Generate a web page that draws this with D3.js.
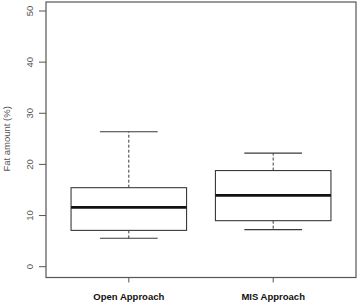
<!DOCTYPE html>
<html>
<head>
<meta charset="utf-8">
<script src="https://cdn.jsdelivr.net/npm/d3@7"></script>
<style>
  body { margin: 0; background: #fff; }
  svg { display: block; }
</style>
</head>
<body>
<svg width="358" height="306"></svg>
<script>
// box summaries
const groups = ['Open Approach', 'MIS Approach'];
const lowerWhisker = [5.55, 7.25];
const q1 = [7.1, 9.0];
const median = [11.6, 13.95];
const q3 = [15.45, 18.8];
const upperWhisker = [26.4, 22.2];
const yTicks = [0, 10, 20, 30, 40, 50];

const svg = d3.select('svg');
const frame = { l: 46, r: 356, t: 2, b: 277.5 };
const x = d3.scaleLinear().domain([0.4265, 2.5735]).range([frame.l, frame.r]);
const y = d3.scaleLinear().domain([0, 50]).range([266.7, 11]);
const ink = '#3a3a3a';
const boxW = 0.8, capW = 0.4;

svg.append('rect')
  .attr('x', frame.l).attr('y', frame.t)
  .attr('width', frame.r - frame.l).attr('height', frame.b - frame.t)
  .attr('fill', 'none').attr('stroke', '#555').attr('stroke-width', 1.2);

// y axis ticks + rotated labels
const yg = svg.append('g');
yg.selectAll('line').data(yTicks).enter().append('line')
  .attr('x1', frame.l - 7).attr('x2', frame.l)
  .attr('y1', d => y(d)).attr('y2', d => y(d))
  .attr('stroke', '#555');
yg.selectAll('text').data(yTicks).enter().append('text')
  .attr('transform', d => `translate(33,${y(d)}) rotate(-90)`)
  .attr('text-anchor', 'middle')
  .attr('font-family', 'Liberation Sans, Arial, sans-serif')
  .attr('font-size', 9.5).attr('fill', '#555')
  .text(d => d);

svg.append('text')
  .attr('transform', `translate(10,${(y(0) + y(50)) / 2}) rotate(-90)`)
  .attr('text-anchor', 'middle')
  .attr('font-family', 'Liberation Sans, Arial, sans-serif')
  .attr('font-size', 9.5).attr('fill', '#555')
  .text('Fat amount (%)');

// x ticks + bold group labels
const xg = svg.append('g');
xg.selectAll('line').data(groups).enter().append('line')
  .attr('x1', (d, i) => x(i + 1)).attr('x2', (d, i) => x(i + 1))
  .attr('y1', frame.b).attr('y2', frame.b + 5)
  .attr('stroke', '#555');
xg.selectAll('text').data(groups).enter().append('text')
  .attr('x', (d, i) => x(i + 1)).attr('y', 300)
  .attr('text-anchor', 'middle')
  .attr('font-family', 'Liberation Sans, Arial, sans-serif')
  .attr('font-weight', 'bold')
  .attr('font-size', 9.5).attr('fill', '#111')
  .text(d => d);

// boxes
const boxes = svg.append('g').selectAll('g').data(groups).enter().append('g');
boxes.each(function (d, i) {
  const g = d3.select(this);
  const cx = x(i + 1);
  const halfBox = (x(1 + boxW / 2) - x(1));
  const halfCap = (x(1 + capW / 2) - x(1));
  // whiskers
  g.append('line').attr('x1', cx).attr('x2', cx)
    .attr('y1', y(q3[i])).attr('y2', y(upperWhisker[i]))
    .attr('stroke', ink).attr('stroke-dasharray', '3,2');
  g.append('line').attr('x1', cx).attr('x2', cx)
    .attr('y1', y(q1[i])).attr('y2', y(lowerWhisker[i]))
    .attr('stroke', ink).attr('stroke-dasharray', '3,2');
  [upperWhisker[i], lowerWhisker[i]].forEach(v => {
    g.append('line').attr('x1', cx - halfCap).attr('x2', cx + halfCap)
      .attr('y1', y(v)).attr('y2', y(v))
      .attr('stroke', ink).attr('stroke-width', 1.1);
  });
  g.append('rect')
    .attr('x', cx - halfBox).attr('y', y(q3[i]))
    .attr('width', 2 * halfBox).attr('height', y(q1[i]) - y(q3[i]))
    .attr('fill', '#fff').attr('stroke', ink).attr('stroke-width', 1.1);
  g.append('line').attr('x1', cx - halfBox).attr('x2', cx + halfBox)
    .attr('y1', y(median[i])).attr('y2', y(median[i]))
    .attr('stroke', '#111').attr('stroke-width', 2.6);
});
</script>
</body>
</html>
